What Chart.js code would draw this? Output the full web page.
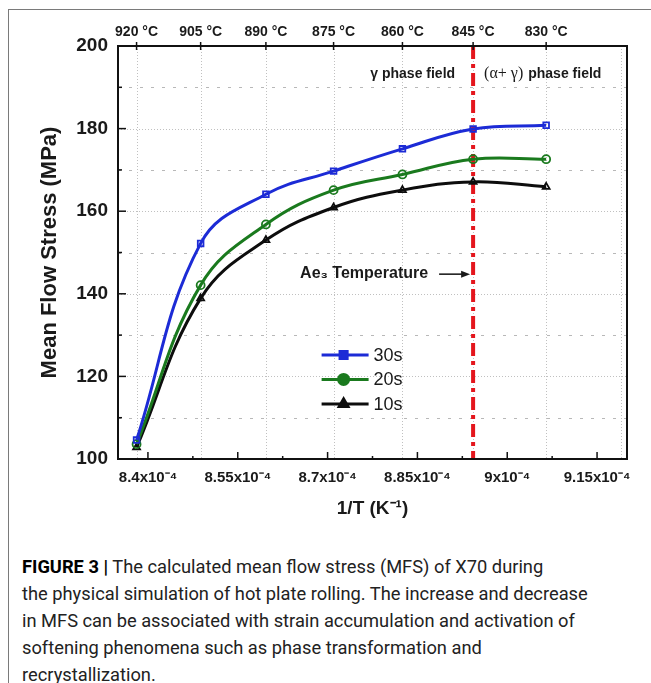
<!DOCTYPE html>
<html lang="en">
<head>
    <meta charset="UTF-8">
    <title>Mean Flow Stress of X70</title>
    <script src="https://cdn.jsdelivr.net/npm/chart.js"></script>
    <style>
        body {
            margin: 0;
            background: #fff;
            width: 651px;
            height: 683px;
            position: relative;
            overflow: hidden;
        }
        .frame {
            position: absolute;
            left: 8px;
            top: 9px;
            right: 0;
            bottom: 0;
            border-top: 1px solid #7a7a7a;
            border-left: 1px solid #7a7a7a;
        }
        .chart-box {
            position: absolute;
            left: 0;
            top: 0;
        }
        .caption {
            position: absolute;
            left: 22px;
            top: 553px;
            font-family: "Liberation Sans Narrow", "Arial Narrow", Roboto, sans-serif;
            font-size: 18.3px;
            line-height: 27px;
            color: #222;
            white-space: nowrap;
        }
        .caption b { color: #000; }
    </style>
</head>
<body>
    <div class="frame"></div>
    <div class="chart-box">
        <canvas id="mfsChart" width="651" height="540"></canvas>
    </div>
    <div class="caption"><b>FIGURE 3 |</b> The calculated mean flow stress (MFS) of X70 during<br>the physical simulation of hot plate rolling. The increase and decrease<br>in MFS can be associated with strain accumulation and activation of<br>softening phenomena such as phase transformation and<br>recrystallization.</div>

    <script>
        // 1/T of the pass temperatures (920 ... 830 °C), in 1e-4 K^-1
        const invTemp = [8.381, 8.488, 8.597, 8.710, 8.825, 8.943, 9.065];
        const mfs30 = [104.6, 152.2, 164.1, 169.7, 175.1, 179.9, 180.8];
        const mfs20 = [103.6, 142.1, 156.8, 165.1, 168.9, 172.6, 172.6];
        const mfs10 = [102.8, 138.9, 153.0, 160.9, 165.1, 167.1, 165.9];

        // top axis (temperature) and bottom axis (1/T)
        const topTicks = [8.381, 8.488, 8.597, 8.710, 8.825, 8.943, 9.065, 9.190];
        const topLabels = ['920 °C', '905 °C', '890 °C', '875 °C', '860 °C', '845 °C', '830 °C', ''];
        const bottomTicks = [8.4, 8.55, 8.7, 8.85, 9.0, 9.15];
        const bottomLabels = ['8.4x10⁻⁴', '8.55x10⁻⁴', '8.7x10⁻⁴', '8.85x10⁻⁴', '9x10⁻⁴', '9.15x10⁻⁴'];
        const bottomMinor = [8.475, 8.625, 8.775, 8.925, 9.075];
        const yMajor = [120, 140, 160, 180];
        const yMinor = [110, 130, 150, 170, 190];
        const ae3 = 8.943;        // Ae3 temperature (845 °C)
        const ae3LabelAt = 145;   // MPa level of the "Ae3 Temperature" arrow

        const FONT = '"Liberation Sans", Arial, sans-serif';
        const pts = arr => invTemp.map((x, i) => ({ x: x, y: arr[i] }));

        function line(ctx, x1, y1, x2, y2) {
            ctx.beginPath();
            ctx.moveTo(x1, y1);
            ctx.lineTo(x2, y2);
            ctx.stroke();
        }

        const decor = {
            id: 'decor',
            beforeDatasetsDraw(chart) {
                const { ctx, chartArea: a, scales: { x, y } } = chart;
                ctx.save();
                ctx.lineWidth = 1;
                // vertical dotted grid at the temperature ticks
                ctx.strokeStyle = '#c0c0c0';
                ctx.setLineDash([1, 2]);
                topTicks.forEach(v => {
                    const px = Math.round(x.getPixelForValue(v)) + 0.5;
                    line(ctx, px, a.top, px, a.bottom);
                });
                yMajor.forEach(v => {
                    const py = Math.round(y.getPixelForValue(v)) + 0.5;
                    line(ctx, a.left, py, a.right, py);
                });
                ctx.strokeStyle = '#b8b8b8';
                ctx.setLineDash([3, 8]);
                yMinor.forEach(v => {
                    const py = Math.round(y.getPixelForValue(v)) + 0.5;
                    line(ctx, a.left, py, a.right, py);
                });
                // Ae3 line
                const ax = x.getPixelForValue(ae3);
                ctx.strokeStyle = '#e4161d';
                ctx.lineWidth = 4;
                ctx.setLineDash([13, 5, 4, 5]);
                line(ctx, ax, a.top, ax, a.bottom);
                ctx.restore();
            },
            afterDraw(chart) {
                const { ctx, chartArea: a, scales: { x, y } } = chart;
                ctx.save();
                ctx.setLineDash([]);
                ctx.strokeStyle = '#111';
                ctx.lineWidth = 2;
                ctx.strokeRect(a.left, a.top, a.right - a.left, a.bottom - a.top);

                // tick marks
                ctx.lineWidth = 1.5;
                yMajor.forEach(v => { const py = y.getPixelForValue(v); line(ctx, a.left, py, a.left + 8, py); });
                yMinor.forEach(v => { const py = y.getPixelForValue(v); line(ctx, a.left, py, a.left + 4, py); });
                bottomTicks.forEach(v => { const px = x.getPixelForValue(v); line(ctx, px, a.bottom, px, a.bottom - 7); });
                bottomMinor.forEach(v => { const px = x.getPixelForValue(v); line(ctx, px, a.bottom, px, a.bottom - 3); });
                topTicks.forEach((v, i) => {
                    if (!topLabels[i]) return;
                    const px = x.getPixelForValue(v);
                    line(ctx, px, a.top - 4, px, a.top + 4);
                });

                // phase field labels
                const ax = x.getPixelForValue(ae3);
                const ty = a.top + 28;
                ctx.fillStyle = '#1a1a1a';
                ctx.textBaseline = 'middle';
                ctx.font = 'bold 14px ' + FONT;
                ctx.textAlign = 'right';
                ctx.fillText('γ phase field', ax - 18, ty);
                ctx.textAlign = 'left';
                ctx.font = '16px "Liberation Serif", "Times New Roman", serif';
                const lead = '(α+ γ)';
                ctx.fillText(lead, ax + 11, ty);
                const w = ctx.measureText(lead).width;
                ctx.font = 'bold 14px ' + FONT;
                ctx.fillText('phase field', ax + 11 + w + 5, ty);

                // Ae3 arrow
                const ay = y.getPixelForValue(ae3LabelAt);
                ctx.font = 'bold 16px ' + FONT;
                ctx.textAlign = 'right';
                ctx.fillText('Ae₃ Temperature', ax - 45, ay);
                ctx.strokeStyle = '#111';
                ctx.lineWidth = 1.5;
                line(ctx, ax - 34, ay + 1, ax - 8, ay + 1);
                ctx.beginPath();
                ctx.moveTo(ax - 3, ay + 1);
                ctx.lineTo(ax - 12, ay - 2.5);
                ctx.lineTo(ax - 12, ay + 4.5);
                ctx.closePath();
                ctx.fill();

                // legend inside the plot
                const lx = a.left + 0.4 * (a.right - a.left);
                let ly = a.top + 0.748 * (a.bottom - a.top);
                chart.data.datasets.forEach(ds => {
                    ctx.strokeStyle = ds.borderColor;
                    ctx.fillStyle = ds.borderColor;
                    ctx.lineWidth = 3;
                    line(ctx, lx, ly, lx + 47, ly);
                    Chart.helpers.drawPoint(ctx, {
                        pointStyle: ds.pointStyle, radius: 5, rotation: 0, borderWidth: 1
                    }, lx + 22, ly);
                    ctx.fillStyle = '#1a1a1a';
                    ctx.font = '18px ' + FONT;
                    ctx.textAlign = 'left';
                    ctx.fillText(ds.label, lx + 52, ly + 1);
                    ly += 24.5;
                });
                ctx.restore();
            }
        };

        const common = {
            borderWidth: 3,
            tension: 0.4,
            pointRadius: 4,
            pointBorderWidth: 1.8,
            pointBackgroundColor: 'rgba(255,255,255,0)'
        };

        new Chart(document.getElementById('mfsChart'), {
            type: 'line',
            data: {
                datasets: [
                    Object.assign({ label: '30s', data: pts(mfs30), borderColor: '#1c2bd6', pointBorderColor: '#1c2bd6', pointStyle: 'rect' }, common),
                    Object.assign({ label: '20s', data: pts(mfs20), borderColor: '#1a7a1e', pointBorderColor: '#1a7a1e', pointStyle: 'circle' }, common),
                    Object.assign({ label: '10s', data: pts(mfs10), borderColor: '#0d0d0d', pointBorderColor: '#0d0d0d', pointStyle: 'triangle', pointRadius: 5 }, common)
                ]
            },
            options: {
                responsive: false,
                animation: false,
                layout: { padding: { left: 0, right: 24, top: 0, bottom: 0 } },
                plugins: {
                    legend: { display: false },
                    tooltip: { enabled: false }
                },
                scales: {
                    x: {
                        type: 'linear',
                        position: 'bottom',
                        min: 8.35,
                        max: 9.2,
                        afterBuildTicks: s => { s.ticks = bottomTicks.map(v => ({ value: v })); },
                        afterFit: s => { s.height = 81; },
                        ticks: {
                            callback: (v, i) => bottomLabels[i],
                            autoSkip: false,
                            maxRotation: 0,
                            padding: 10,
                            color: '#1a1a1a',
                            font: { family: FONT, size: 15, weight: 'bold' }
                        },
                        grid: { display: false, drawTicks: false },
                        border: { display: false },
                        title: {
                            display: true,
                            text: '1/T (K⁻¹)',
                            color: '#1a1a1a',
                            font: { family: FONT, size: 19, weight: 'bold' },
                            padding: { top: 0, bottom: 20 }
                        }
                    },
                    x2: {
                        type: 'linear',
                        position: 'top',
                        min: 8.35,
                        max: 9.2,
                        afterBuildTicks: s => { s.ticks = topTicks.map(v => ({ value: v })); },
                        afterFit: s => { s.height = 46; },
                        ticks: {
                            callback: (v, i) => topLabels[i],
                            autoSkip: false,
                            maxRotation: 0,
                            padding: 5,
                            color: '#1a1a1a',
                            font: { family: FONT, size: 14, weight: 'bold' }
                        },
                        grid: { display: false, drawTicks: false },
                        border: { display: false }
                    },
                    y: {
                        min: 100,
                        max: 200,
                        afterFit: s => { s.width = 118; },
                        ticks: {
                            stepSize: 20,
                            padding: 10,
                            color: '#1a1a1a',
                            font: { family: FONT, size: 19, weight: 'bold' }
                        },
                        grid: { display: false, drawTicks: false },
                        border: { display: false },
                        title: {
                            display: true,
                            text: 'Mean Flow Stress (MPa)',
                            color: '#1a1a1a',
                            font: { family: FONT, size: 22, weight: 'bold' },
                            padding: { top: 37, bottom: 0 }
                        }
                    }
                }
            },
            plugins: [decor]
        });
    </script>
</body>
</html>
